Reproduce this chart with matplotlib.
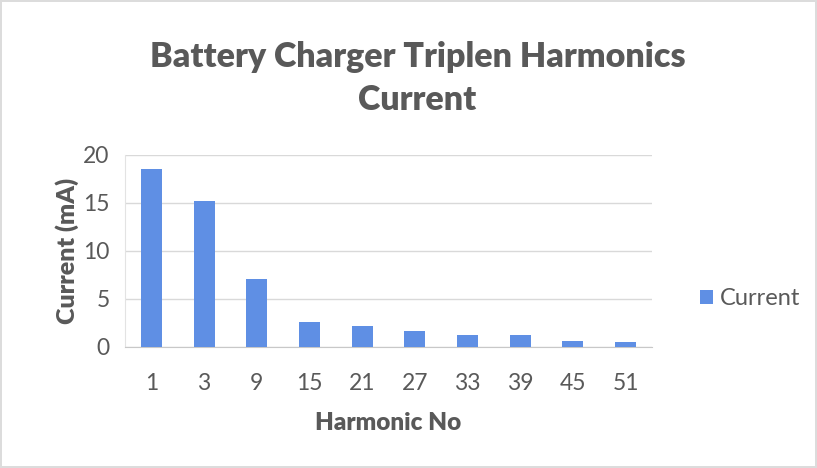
import matplotlib
matplotlib.use("Agg")
from matplotlib import pyplot as plt
import numpy as np

harmonics = ['1', '3', '9', '15', '21', '27', '33', '39', '45', '51']
current_ma = [18.5, 15.2, 7.05, 2.55, 2.2, 1.6, 1.2, 1.25, 0.65, 0.45]

grey = '#595959'
bar_color = '#5f8fe4'

plt.rcParams['font.family'] = ['Lato', 'DejaVu Sans']

fig = plt.figure(figsize=(8.17, 4.68), dpi=100)
fig.patch.set_edgecolor('#dcdcdc')
fig.patch.set_linewidth(1.5)
ax = fig.add_axes([0.153, 0.259, 0.645, 0.41])

x = np.arange(len(harmonics))
ax.bar(x, current_ma, width=0.4, color=bar_color, label='Current', zorder=3)

ax.set_xlim(-0.5, len(harmonics) - 0.5)
ax.set_ylim(0, 20)
ax.set_yticks([0, 5, 10, 15, 20])
ax.set_xticks(x)
ax.set_xticklabels(harmonics)
ax.tick_params(axis='both', length=0, labelsize=16.5, colors=grey)
ax.tick_params(axis='x', pad=19)
ax.tick_params(axis='y', pad=11)
ax.grid(axis='y', color='#d9d9d9', linewidth=1)
for side in ['top', 'right']:
    ax.spines[side].set_visible(False)
ax.spines['left'].set_color('#e3e3e3')
ax.spines['bottom'].set_color('#c8c8c8')

ax.set_xlabel('Harmonic No', fontsize=17.5, fontweight='heavy', color=grey, labelpad=13)
ax.set_ylabel('Current (mA)', fontsize=18, fontweight='heavy', color=grey, labelpad=3)

fig.text(0.511, 0.833, 'Battery Charger Triplen Harmonics\nCurrent', ha='center', va='center',
         fontsize=24.5, fontweight='heavy', color=grey, linespacing=1.42)

leg = ax.legend(loc='center left', bbox_to_anchor=(1.05, 0.25), frameon=False,
                fontsize=17, handlelength=0.55, handleheight=0.55, handletextpad=0.3)
for t in leg.get_texts():
    t.set_color(grey)

fig.savefig('out.png', dpi=100)
